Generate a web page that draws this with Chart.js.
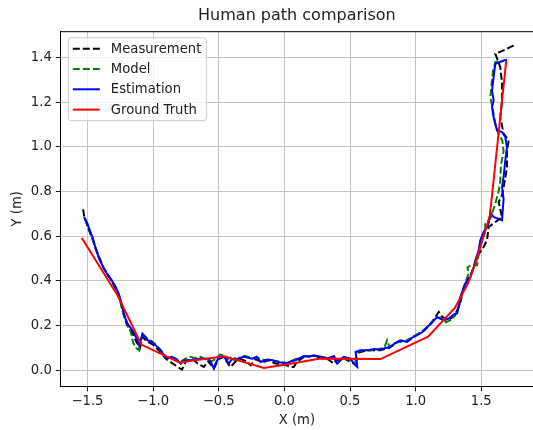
<!DOCTYPE html>
<html>
<head>
<meta charset="utf-8">
<script src="https://cdn.jsdelivr.net/npm/chart.js"></script>
<style>
  html, body { margin: 0; padding: 0; background: #fff; overflow: hidden; }
</style>
</head>
<body>
<canvas id="myChart" width="533" height="430"></canvas>
<script>
// tick positions
const xTicks = [-1.5, -1.0, -0.5, 0.0, 0.5, 1.0, 1.5];
const yTicks = [0.0, 0.2, 0.4, 0.6, 0.8, 1.0, 1.2, 1.4];

// series, [x, y] in metres
const measurement = [
  [-1.533,0.72],[-1.525,0.69],[-1.50,0.645],[-1.47,0.60],[-1.44,0.55],[-1.41,0.505],[-1.38,0.46],
  [-1.33,0.415],[-1.29,0.37],[-1.25,0.31],[-1.225,0.25],[-1.20,0.205],[-1.16,0.17],[-1.125,0.125],
  [-1.10,0.10],[-1.08,0.15],[-1.05,0.13],[-1.00,0.115],[-0.95,0.085],[-0.90,0.05],[-0.85,0.03],
  [-0.80,0.01],[-0.78,0.003],[-0.75,0.04],[-0.70,0.05],[-0.66,0.03],[-0.613,0.015],[-0.58,0.04],
  [-0.537,0.008],[-0.50,0.05],[-0.46,0.06],[-0.43,0.03],[-0.41,0.015],[-0.37,0.04],[-0.33,0.05],
  [-0.29,0.04],[-0.257,0.022],[-0.22,0.05],[-0.17,0.035],[-0.12,0.045],[-0.07,0.03],[0.0,0.025],
  [0.047,0.015],[0.072,0.015],[0.10,0.04],[0.15,0.06],[0.22,0.065],[0.28,0.055],[0.33,0.05],
  [0.377,0.03],[0.40,0.045],[0.45,0.055],[0.504,0.037],[0.53,0.03],[0.55,0.02],[0.545,0.075],
  [0.60,0.085],[0.66,0.09],[0.73,0.09],[0.80,0.10],[0.87,0.13],[0.94,0.13],[1.00,0.155],
  [1.07,0.18],[1.13,0.22],[1.176,0.261],[1.20,0.24],[1.25,0.225],[1.30,0.245],[1.341,0.306],
  [1.36,0.35],[1.39,0.40],[1.42,0.43],[1.45,0.47],[1.48,0.52],[1.518,0.552],[1.544,0.582],
  [1.556,0.641],[1.658,0.686],[1.632,0.753],[1.658,0.783],[1.683,0.86],[1.696,0.91],[1.696,0.984],
  [1.709,1.029],[1.67,1.059],[1.645,1.133],[1.658,1.208],[1.658,1.283],[1.645,1.357],[1.607,1.417],
  [1.67,1.432],[1.72,1.447],[1.747,1.454]
];
const model = [
  [-1.52,0.68],[-1.49,0.64],[-1.46,0.59],[-1.44,0.55],[-1.40,0.49],[-1.37,0.45],[-1.32,0.405],
  [-1.28,0.365],[-1.25,0.31],[-1.23,0.26],[-1.20,0.215],[-1.17,0.17],[-1.15,0.12],[-1.13,0.10],
  [-1.107,0.089],[-1.10,0.13],[-1.08,0.16],[-1.05,0.145],[-1.02,0.135],[-0.99,0.12],[-0.95,0.095],
  [-0.90,0.06],[-0.86,0.055],[-0.82,0.05],[-0.80,0.035],[-0.76,0.05],[-0.72,0.06],[-0.68,0.055],
  [-0.64,0.06],[-0.60,0.05],[-0.56,0.04],[-0.52,0.05],[-0.49,0.07],[-0.46,0.065],[-0.43,0.05],
  [-0.40,0.06],[-0.36,0.05],[-0.33,0.06],[-0.30,0.065],[-0.25,0.055],[-0.20,0.055],[-0.15,0.045],
  [-0.10,0.045],[-0.05,0.04],[0.02,0.032],[0.08,0.048],[0.15,0.062],[0.22,0.064],[0.28,0.06],
  [0.33,0.055],[0.38,0.06],[0.41,0.035],[0.45,0.055],[0.50,0.05],[0.54,0.035],[0.55,0.08],
  [0.60,0.09],[0.66,0.09],[0.72,0.095],[0.76,0.10],[0.783,0.134],[0.80,0.105],[0.86,0.125],
  [0.92,0.13],[0.98,0.15],[1.04,0.17],[1.10,0.20],[1.15,0.235],[1.19,0.235],[1.23,0.215],
  [1.265,0.224],[1.30,0.245],[1.33,0.285],[1.35,0.34],[1.37,0.38],[1.404,0.433],[1.395,0.46],
  [1.42,0.47],[1.468,0.47],[1.48,0.52],[1.50,0.575],[1.531,0.62],[1.531,0.656],[1.569,0.678],
  [1.607,0.746],[1.632,0.80],[1.645,0.85],[1.65,0.92],[1.67,0.98],[1.66,1.03],[1.63,1.06],
  [1.607,1.103],[1.59,1.16],[1.569,1.223],[1.58,1.29],[1.59,1.34],[1.607,1.38],[1.64,1.385]
];
const estimation = [
  [-1.526,0.686],[-1.50,0.656],[-1.48,0.62],[-1.462,0.597],[-1.437,0.544],[-1.412,0.50],
  [-1.374,0.455],[-1.34,0.42],[-1.323,0.41],[-1.285,0.373],[-1.26,0.34],[-1.247,0.313],
  [-1.222,0.254],[-1.21,0.23],[-1.196,0.209],[-1.158,0.179],[-1.14,0.16],[-1.12,0.134],
  [-1.107,0.112],[-1.09,0.14],[-1.081,0.164],[-1.06,0.15],[-1.043,0.134],[-1.02,0.13],
  [-0.993,0.119],[-0.96,0.10],[-0.942,0.089],[-0.92,0.07],[-0.891,0.052],[-0.86,0.06],
  [-0.828,0.052],[-0.79,0.03],[-0.76,0.045],[-0.714,0.045],[-0.67,0.05],[-0.638,0.052],
  [-0.575,0.052],[-0.555,0.03],[-0.537,0.008],[-0.52,0.035],[-0.498,0.06],[-0.46,0.06],
  [-0.44,0.045],[-0.422,0.03],[-0.40,0.05],[-0.371,0.045],[-0.34,0.055],[-0.308,0.06],
  [-0.244,0.052],[-0.21,0.06],[-0.181,0.037],[-0.13,0.048],[-0.09,0.045],[-0.054,0.037],
  [0.022,0.03],[0.05,0.04],[0.085,0.045],[0.148,0.064],[0.19,0.06],[0.224,0.067],[0.275,0.06],
  [0.326,0.052],[0.377,0.063],[0.39,0.04],[0.402,0.03],[0.43,0.05],[0.453,0.06],[0.504,0.052],
  [0.529,0.03],[0.555,0.015],[0.55,0.05],[0.542,0.082],[0.58,0.09],[0.631,0.089],[0.68,0.095],
  [0.732,0.092],[0.77,0.10],[0.808,0.104],[0.84,0.12],[0.884,0.134],[0.935,0.127],[0.97,0.145],
  [1.011,0.157],[1.05,0.17],[1.088,0.194],[1.12,0.21],[1.163,0.238],[1.19,0.23],[1.214,0.224],
  [1.252,0.231],[1.29,0.25],[1.316,0.254],[1.33,0.29],[1.341,0.328],[1.36,0.36],[1.379,0.388],
  [1.40,0.41],[1.417,0.417],[1.442,0.462],[1.455,0.492],[1.48,0.537],[1.493,0.582],[1.518,0.619],
  [1.556,0.656],[1.569,0.708],[1.594,0.686],[1.658,0.671],[1.67,0.768],[1.658,0.82],[1.67,0.865],
  [1.683,0.94],[1.696,0.999],[1.683,1.044],[1.658,1.066],[1.62,1.074],[1.594,1.133],[1.582,1.178],
  [1.594,1.208],[1.582,1.253],[1.594,1.312],[1.607,1.372],[1.67,1.387],[1.696,1.39]
];
const groundTruth = [
  [-1.543,0.592],[-1.27,0.335],[-1.09,0.115],[-0.80,0.035],[-0.46,0.063],[-0.156,0.010],
  [0.022,0.027],[0.275,0.052],[0.732,0.05],[1.095,0.15],[1.30,0.28],[1.40,0.39],[1.45,0.47],
  [1.565,0.69],[1.69,1.385]
];

const FONT = 'DejaVu Sans';
Chart.defaults.font.family = FONT;
Chart.defaults.color = '#222';

const toPts = arr => arr.map(p => ({x: p[0], y: p[1]}));
const fmt = v => v.toFixed(1).replace('-', '\u2212');

// legend inside the axes, upper left, drawn like matplotlib's
const boxLegend = {
  id: 'boxLegend',
  afterDatasetsDraw(chart) {
    const ctx = chart.ctx;
    const a = chart.chartArea;
    ctx.save();
    // top frame line
    ctx.strokeStyle = '#000';
    ctx.lineWidth = 1;
    ctx.beginPath();
    ctx.moveTo(a.left, a.top + 0.5);
    ctx.lineTo(a.right, a.top + 0.5);
    ctx.stroke();

    const bx = a.left + 7.5, by = a.top + 6.5, bw = 138, bh = 83;
    ctx.beginPath();
    ctx.roundRect(bx, by, bw, bh, 3);
    ctx.fillStyle = 'rgba(255,255,255,0.8)';
    ctx.fill();
    ctx.strokeStyle = '#cccccc';
    ctx.stroke();

    ctx.font = '13.2px ' + FONT;
    ctx.textBaseline = 'middle';
    chart.data.datasets.forEach((ds, i) => {
      const y = by + 11 + i * 20.3;
      ctx.strokeStyle = ds.borderColor;
      ctx.lineWidth = ds.borderWidth;
      ctx.setLineDash(ds.borderDash || []);
      ctx.beginPath();
      ctx.moveTo(bx + 4.5, y);
      ctx.lineTo(bx + 31.5, y);
      ctx.stroke();
      ctx.setLineDash([]);
      ctx.fillStyle = '#222';
      ctx.fillText(ds.label, bx + 42.5, y + 0.5);
    });
    ctx.restore();
  }
};

const lineSet = (label, pts, color, dash, order) => ({
  label: label,
  data: toPts(pts),
  borderColor: color,
  backgroundColor: color,
  borderWidth: 2,
  borderDash: dash,
  showLine: true,
  pointRadius: 0,
  tension: 0,
  order: order
});

const config = {
  type: 'scatter',
  data: {
    datasets: [
      lineSet('Measurement', measurement, '#000000', [7, 3], 4),
      lineSet('Model', model, '#008000', [7, 3], 3),
      lineSet('Estimation', estimation, '#0000ff', [], 2),
      lineSet('Ground Truth', groundTruth, '#ff0000', [], 1)
    ]
  },
  options: {
    responsive: false,
    animation: false,
    layout: { padding: { left: 9, top: 6, right: 0, bottom: 2 } },
    plugins: {
      legend: { display: false },
      tooltip: { enabled: false },
      title: {
        display: true,
        text: 'Human path comparison',
        fullSize: false,
        color: '#222',
        font: { size: 16, weight: 'normal' },
        padding: { top: 0, bottom: 6 }
      }
    },
    scales: {
      x: {
        type: 'linear',
        min: -1.703,
        max: 1.894,
        afterBuildTicks: s => { s.ticks = xTicks.map(v => ({ value: v })); },
        ticks: { callback: fmt, padding: 2, font: { size: 13.2 }, color: '#222', maxRotation: 0, autoSkip: false },
        grid: { color: '#c4c4c4', lineWidth: 1, tickColor: '#222', tickLength: 5 },
        border: { color: '#000', width: 1 },
        title: { display: true, text: 'X (m)', font: { size: 13.2 }, color: '#222', padding: { top: 1, bottom: 0 } }
      },
      y: {
        type: 'linear',
        min: -0.072,
        max: 1.518,
        afterBuildTicks: s => { s.ticks = yTicks.map(v => ({ value: v })); },
        ticks: { callback: fmt, padding: 4, font: { size: 13.2 }, color: '#222', autoSkip: false },
        grid: { color: '#c4c4c4', lineWidth: 1, tickColor: '#222', tickLength: 5 },
        border: { color: '#000', width: 1 },
        title: { display: true, text: 'Y (m)', font: { size: 13.2 }, color: '#222', padding: { top: 1, bottom: 1 } }
      }
    }
  },
  plugins: [boxLegend]
};

const myChart = new Chart(document.getElementById('myChart'), config);
</script>
</body>
</html>
